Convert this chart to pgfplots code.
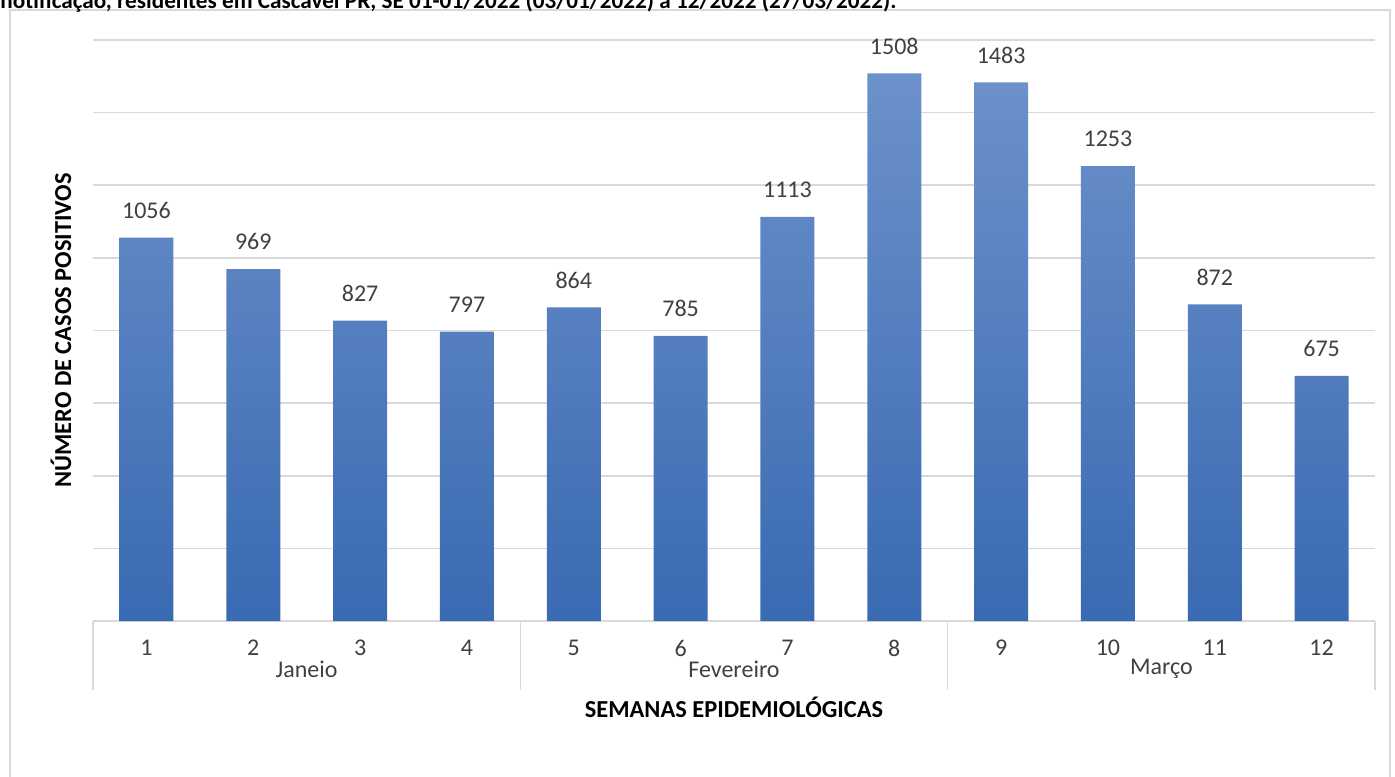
\documentclass[border=0pt]{standalone}
\usepackage{pgfplots}
\pgfplotsset{compat=1.18}
\usepackage{fontspec}
\setmainfont{Carlito}
\definecolor{bartop}{RGB}{108,145,203}
\definecolor{barbot}{RGB}{58,106,178}
\definecolor{gridgray}{RGB}{217,217,217}
\definecolor{txt}{RGB}{64,64,64}

\begin{document}
\begin{tikzpicture}
% chart frame
\draw[gridgray, line width=0.8pt] (5pt,-5pt) rectangle (695pt,-420pt);
% title, cut off at the top of the picture
\node[anchor=base west, inner sep=0pt, font=\fontsize{11.6}{14}\selectfont\bfseries] at (0pt,-4.4pt)
  {notificação, residentes em Cascavel PR, SE 01-01/2022 (03/01/2022) a 12/2022 (27/03/2022).};
\begin{axis}[
  at={(46.5pt,-310.5pt)}, anchor=south west, scale only axis,
  width=641pt, height=290.5pt,
  ymin=0, ymax=1600, ytick={0,200,...,1600}, yticklabels={},
  xmin=0.5, xmax=12.5, xtick={1,...,12},
  major tick length=0pt,
  axis line style={draw=none},
  ymajorgrids, grid style={gridgray, line width=0.8pt},
  ybar, bar width=27pt,
  clip=false,
  font=\fontsize{12}{14}\selectfont,
  /pgf/number format/assume math mode=true,
  /pgf/number format/1000 sep={},
  xticklabel style={yshift=-6pt, txt},
  nodes near coords,
  every node near coord/.append style={yshift=6pt, font=\fontsize{12}{14}\selectfont, txt},
]
\addplot[draw=none, top color=bartop, bottom color=barbot] coordinates {
  (1,1056) (2,969) (3,827) (4,797) (5,864) (6,785)
  (7,1113) (8,1508) (9,1483) (10,1253) (11,872) (12,675)};
% month groups
\foreach \s in {0.5,4.5,8.5,12.5} {
  \edef\tmp{\noexpand\draw[gridgray, line width=0.8pt] (axis cs:\s,0) -- ([yshift=-34.5pt]axis cs:\s,0);}\tmp
}
\node[font=\fontsize{12}{14}\selectfont, txt] at ([yshift=-24pt]axis cs:2.5,0) {Janeio};
\node[font=\fontsize{12}{14}\selectfont, txt] at ([yshift=-24pt]axis cs:6.5,0) {Fevereiro};
\node[font=\fontsize{12}{14}\selectfont, txt] at ([yshift=-24pt]axis cs:10.5,0) {Março};
\node[font=\fontsize{12.2}{14}\selectfont\bfseries] at ([yshift=-43pt]axis description cs:0.5,0) {SEMANAS EPIDEMIOLÓGICAS};
\node[rotate=90, font=\fontsize{12.2}{14}\selectfont\bfseries] at ([xshift=-16pt]axis description cs:0,0.5) {NÚMERO DE CASOS POSITIVOS};
\end{axis}
\pgfresetboundingbox
\useasboundingbox (0pt,0pt) rectangle (697.5pt,-388pt);
\end{tikzpicture}
\end{document}
